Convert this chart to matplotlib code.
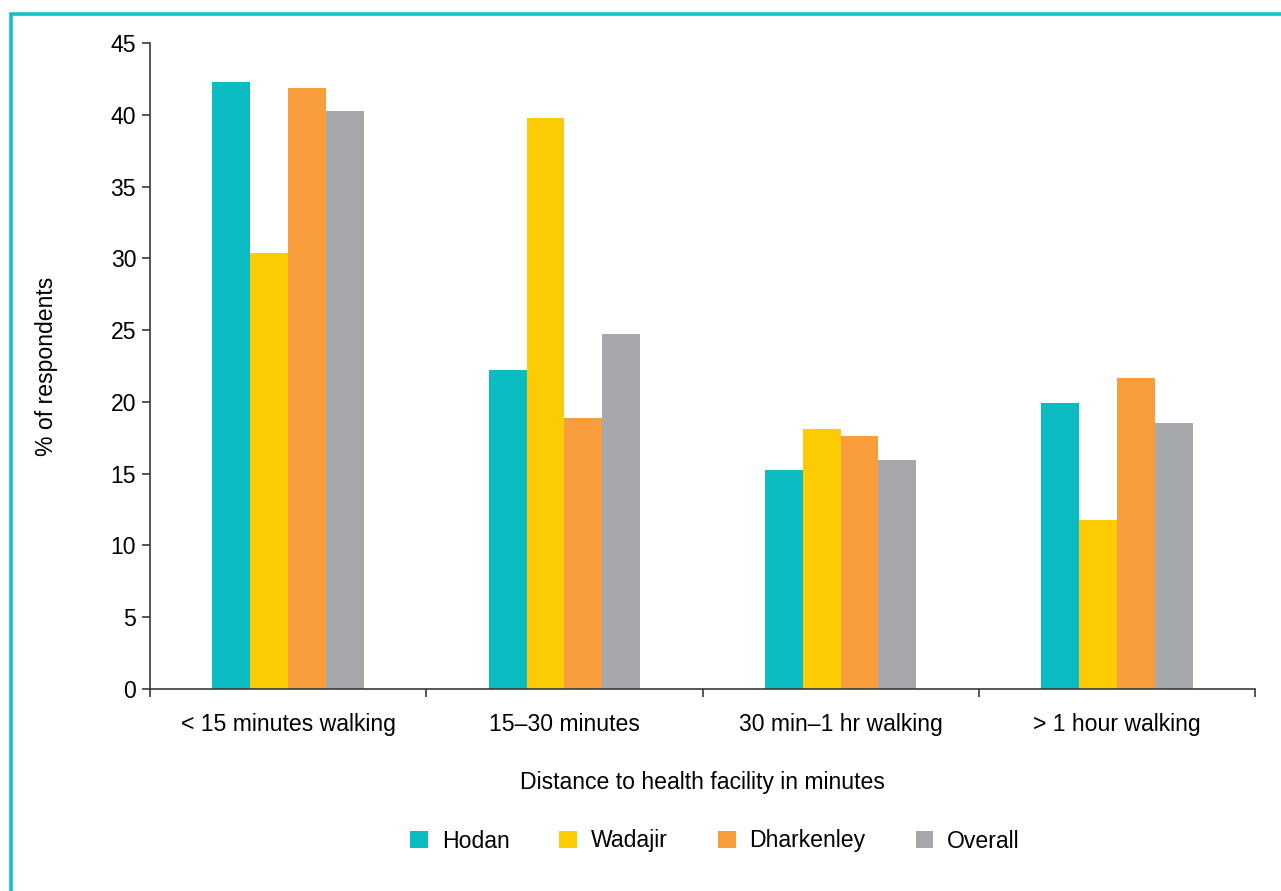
import matplotlib
matplotlib.use("Agg")
import matplotlib.pyplot as plt
from matplotlib.patches import Rectangle
import numpy as np

plt.rcParams['font.family'] = ['Liberation Sans', 'DejaVu Sans']

categories = ["< 15 minutes walking", "15\u201330 minutes", "30 min\u20131 hr walking", "> 1 hour walking"]
series_names = ["Hodan", "Wadajir", "Dharkenley", "Overall"]
hodan = [42.3, 22.2, 15.25, 19.9]
wadajir = [30.4, 39.8, 18.1, 11.8]
dharkenley = [41.9, 18.9, 17.6, 21.65]
overall = [40.25, 24.7, 15.95, 18.5]
colors = ["#0ABCC1", "#FDCB04", "#F99D3C", "#A7A8AB"]

values = [hodan, wadajir, dharkenley, overall]

W, H = 1281, 891
fig = plt.figure(figsize=(W / 100, H / 100), dpi=100)
ax = fig.add_axes([150/W, 1-689/H, (1255-150)/W, (689-43)/H])

x = np.arange(len(categories))
width = 0.137
for i, (name, vals, c) in enumerate(zip(series_names, values, colors)):
    ax.bar(x + (i - 1.5) * width, vals, width, color=c, label=name, zorder=2)

fs = 16.6
spine_col = "#3a3a3a"
ax.set_xlim(-0.5, len(categories) - 0.5)
ax.set_ylim(0, 45)
ax.set_yticks(np.arange(0, 46, 5))
ax.set_xticks(x)
ax.set_xticklabels(categories)
ax.set_xticks(np.arange(-0.5, len(categories), 1.0), minor=True)
ax.tick_params(axis='x', which='major', length=0, pad=17.5, labelsize=fs)
ax.tick_params(axis='x', which='minor', length=6, width=1.2, color=spine_col, direction='out')
ax.tick_params(axis='y', length=6, width=1.2, color=spine_col, pad=4, labelsize=fs)
for s in ['top', 'right']:
    ax.spines[s].set_visible(False)
for s in ['left', 'bottom']:
    ax.spines[s].set_color(spine_col)
    ax.spines[s].set_linewidth(1.2)
    ax.spines[s].set_zorder(3)

ax.set_ylabel("% of respondents", fontsize=fs)
ax.yaxis.set_label_coords((47 - 150) / 1105, 0.5)
ax.yaxis.label.set_ha('center')
ax.yaxis.label.set_va('center')
ax.set_xlabel("Distance to health facility in minutes", fontsize=fs)
ax.xaxis.set_label_coords(0.5, (689 - 782) / 646)
ax.xaxis.label.set_va('center')

fig.legend(loc='center', bbox_to_anchor=(715/W, 1-841/H), ncol=4, frameon=False,
           fontsize=fs, handlelength=0.77, handleheight=0.77, handletextpad=0.6,
           columnspacing=2.17)

# Teal frame around the figure
fig.patches.append(Rectangle((11/W, -0.5), 2.0, 1.5 - 14/H,
                             transform=fig.transFigure, fill=False,
                             edgecolor="#14C2C6", linewidth=2.6, clip_on=False))

fig.savefig("out.png", dpi=100)
